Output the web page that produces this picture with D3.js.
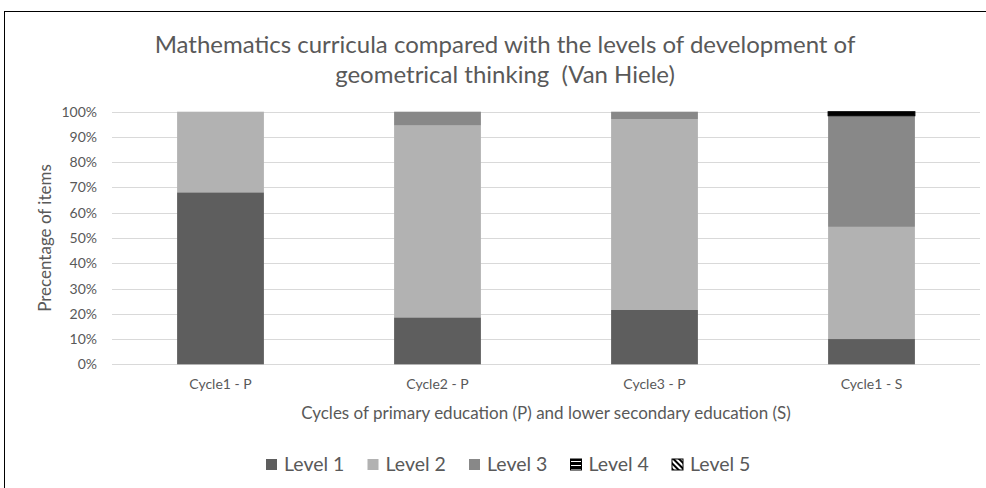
<!DOCTYPE html>
<html>
<head>
<meta charset="utf-8">
<script src="https://cdn.jsdelivr.net/npm/d3@7"></script>
<style>
  body { margin: 0; background: #fff; }
  text { font-family: Lato, "Open Sans", sans-serif; fill: #595959; white-space: pre; }
</style>
</head>
<body>
<div class="content"></div>
<script>
// data (percent of items)
var cycles = ['Cycle1 - P', 'Cycle2 - P', 'Cycle3 - P', 'Cycle1 - S'];
var levels = ['Level 1', 'Level 2', 'Level 3', 'Level 4', 'Level 5'];
var level1 = [68.1, 18.6, 21.5, 10.0];
var level2 = [31.9, 75.9, 75.6, 44.4];
var level3 = [0, 5.5, 2.9, 44.0];
var level4 = [0, 0, 0, 1.6];
var level5 = [0, 0, 0, 0];
var yTicks = [0, 10, 20, 30, 40, 50, 60, 70, 80, 90, 100];

// legend swatches use patterns, the thin level 4 slice renders solid black
var fills = ['#5e5e5e', '#b2b2b2', '#888888', 'url(#stripes)', 'url(#hatch)'];
var barFills = ['#5e5e5e', '#b2b2b2', '#888888', '#000', 'url(#hatch)'];
var strokes = ['none', 'none', 'none', '#000', '#000'];

var svg = d3.select('.content').append('svg')
    .attr('width', 986).attr('height', 488);

var defs = svg.append('defs');
var stripes = defs.append('pattern').attr('id', 'stripes')
    .attr('patternUnits', 'userSpaceOnUse').attr('width', 4).attr('height', 4);
stripes.append('rect').attr('width', 4).attr('height', 4).attr('fill', '#000');
stripes.append('rect').attr('y', 2).attr('width', 4).attr('height', 1).attr('fill', '#fff');
var hatch = defs.append('pattern').attr('id', 'hatch')
    .attr('patternUnits', 'userSpaceOnUse').attr('width', 4).attr('height', 4)
    .attr('patternTransform', 'rotate(-45)');
hatch.append('rect').attr('width', 4).attr('height', 4).attr('fill', '#fff');
hatch.append('rect').attr('width', 2).attr('height', 4).attr('fill', '#000');

// outer frame
svg.append('rect').attr('x', 4.5).attr('y', 11.5).attr('width', 1000).attr('height', 600)
    .attr('fill', 'none').attr('stroke', '#000').attr('stroke-width', 1);

var x = d3.scaleBand().domain(cycles).range([112, 980]).paddingInner(0.6).paddingOuter(0.3);
var y = d3.scaleLinear().domain([0, 100]).range([364.3, 111.7]);

// title
var title = svg.append('text').attr('text-anchor', 'middle').attr('font-size', 24);
title.append('tspan').attr('x', 505).attr('y', 53).text('Mathematics curricula compared with the levels of development of');
title.append('tspan').attr('x', 505).attr('y', 83).text('geometrical thinking  (Van Hiele)');

// grid + y labels
svg.append('g').selectAll('line').data(yTicks).join('line')
    .attr('x1', 112).attr('x2', 980)
    .attr('y1', function(d) { return Math.round(y(d)) + 0.5; })
    .attr('y2', function(d) { return Math.round(y(d)) + 0.5; })
    .attr('stroke', '#d9d9d9').attr('stroke-width', 1);

svg.append('g').selectAll('text').data(yTicks).join('text')
    .attr('x', 97).attr('y', function(d) { return y(d) + 5; })
    .attr('text-anchor', 'end').attr('font-size', 14)
    .text(function(d) { return d + '%'; });

// stacked bars
var table = cycles.map(function(c, i) {
    return { cycle: c, 'Level 1': level1[i], 'Level 2': level2[i], 'Level 3': level3[i], 'Level 4': level4[i], 'Level 5': level5[i] };
});
var series = d3.stack().keys(levels)(table);

svg.append('g').selectAll('g').data(series).join('g')
    .attr('fill', function(d, i) { return barFills[i]; })
    .attr('stroke', function(d, i) { return strokes[i]; })
    .selectAll('rect').data(function(d) { return d.filter(function(p) { return p[1] > p[0]; }); }).join('rect')
    .attr('x', function(d) { return x(d.data.cycle); })
    .attr('width', x.bandwidth())
    .attr('y', function(d) { return y(d[1]); })
    .attr('height', function(d) { return y(d[0]) - y(d[1]); });

// x labels
svg.append('g').selectAll('text').data(cycles).join('text')
    .attr('x', function(d) { return x(d) + x.bandwidth() / 2; })
    .attr('y', 389).attr('text-anchor', 'middle').attr('font-size', 14)
    .text(function(d) { return d; });

svg.append('text').attr('x', 546).attr('y', 419).attr('text-anchor', 'middle')
    .attr('font-size', 17).text('Cycles of primary education (P) and lower secondary education (S)');

svg.append('text').attr('transform', 'translate(51,238) rotate(-90)')
    .attr('text-anchor', 'middle').attr('font-size', 17).text('Precentage of items');

// legend
var lx = d3.scalePoint().domain(levels).range([266, 672]);
var leg = svg.append('g').selectAll('g').data(levels).join('g')
    .attr('transform', function(d) { return 'translate(' + lx(d) + ',459)'; });
leg.append('rect').attr('width', 11).attr('height', 11)
    .attr('fill', function(d, i) { return fills[i]; })
    .attr('stroke', function(d, i) { return strokes[i]; });
leg.append('text').attr('x', 18).attr('y', 12).attr('font-size', 19.5)
    .text(function(d) { return d; });
</script>
</body>
</html>
